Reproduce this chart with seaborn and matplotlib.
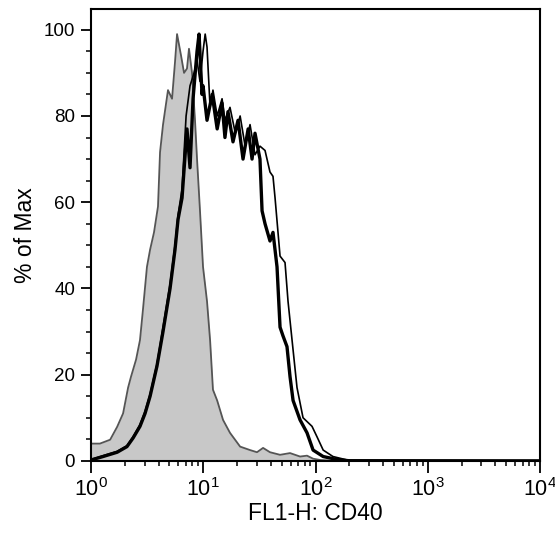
import numpy as np
import pandas as pd
import seaborn as sns
import matplotlib
matplotlib.use("Agg")
import matplotlib.pyplot as plt
from matplotlib.ticker import LogLocator, LogFormatterMathtext, MultipleLocator

# isotype control (gray filled histogram)
iso_x = [1.0, 1.20, 1.48, 1.71, 1.93, 2.14, 2.27, 2.52, 2.73, 2.90, 3.15, 3.36, 3.64,
         3.95, 4.12, 4.38, 4.85, 5.27, 5.60, 5.84, 6.34, 6.74, 7.16, 7.46, 7.94, 8.44,
         8.80, 9.35, 9.95, 10.8, 11.5, 12.2, 13.3, 15.0, 17.3, 21.3, 26.1, 30.1, 34.1,
         39.3, 48.3, 59.3, 72.8, 84.0, 95.1, 110, 150, 10000]
iso_y = [4, 4, 4.9, 7.9, 11, 17, 19.5, 23.5, 28, 35, 45, 49, 53,
         59, 71.6, 78, 86, 84, 92.5, 99, 94, 90, 91, 95.6, 90, 79,
         70, 58, 45, 37, 28, 16.5, 14, 9.5, 6.5, 3.3, 2.5, 2, 3,
         2, 1.4, 1.8, 1, 1.2, 0.5, 0.2, 0, 0]

# CD40 stain, thick line
thick_x = [1.0, 1.28, 1.71, 2.09, 2.37, 2.73, 3.03, 3.36, 3.87, 4.38, 5.06, 5.60, 5.96,
           6.47, 7.16, 7.62, 8.11, 8.80, 9.17, 9.75, 9.95, 10.8, 12.0, 13.3, 14.7, 15.6,
           16.6, 18.4, 20.4, 22.6, 25.1, 27.2, 28.9, 32.0, 33.4, 35.5, 39.3, 41.8, 45.4,
           48.3, 51.3, 55.7, 59.3, 63.1, 72.8, 84.0, 95.1, 117, 156, 203, 10000]
thick_y = [0.2, 1, 2, 3.3, 5.3, 8, 11, 15, 22, 30, 40, 49, 56,
           61, 77, 68, 84, 95, 99, 85, 87, 79, 85, 77, 83, 75,
           81, 74, 79, 70, 77, 70, 76, 70, 58, 55, 51, 53, 45,
           31, 29, 26.5, 19.5, 14, 9.5, 6.5, 2.5, 1, 0.3, 0, 0]

# CD40 stain, thin line
thin_x = [1.0, 1.28, 1.71, 2.09, 2.37, 2.73, 3.03, 3.36, 3.87, 4.38, 5.06, 5.60, 5.96,
          6.47, 7.03, 7.62, 8.28, 8.80, 9.35, 9.95, 10.4, 10.8, 11.5, 12.2, 13.3, 14.7,
          15.6, 17.3, 19.3, 21.3, 23.6, 26.1, 28.9, 32.0, 35.5, 39.3, 41.8, 43.6, 48.3,
          53.5, 56.9, 61.8, 68.4, 77.4, 93.1, 103, 117, 143, 191, 10000]
thin_y = [0.3, 1.2, 2.2, 3.5, 5.6, 8.4, 11.5, 15.5, 22.5, 31, 41, 50, 57,
          63, 80, 87, 90, 93, 88, 95, 99, 96, 82, 86, 80, 84,
          79, 82, 76, 80, 73, 78, 71, 73, 72, 67, 66, 61, 47.5,
          46, 37, 28, 17, 10, 8, 5.6, 2.5, 1, 0.2, 0]

sns.set_theme(style="ticks")
plt.rcParams["font.family"] = ["Liberation Sans", "DejaVu Sans"]
plt.rcParams["mathtext.default"] = "regular"
plt.rcParams["text.color"] = "black"
plt.rcParams["axes.labelcolor"] = "black"

fig = plt.figure(figsize=(5.55, 5.34), dpi=100)
ax = fig.add_axes([0.164, 0.137, 0.809, 0.846])

ax.fill_between(iso_x, iso_y, 0, color="#c8c8c8", linewidth=0)
sns.lineplot(x=iso_x, y=iso_y, ax=ax, color="#555555", linewidth=1.3, sort=False)
sns.lineplot(x=thin_x, y=thin_y, ax=ax, color="black", linewidth=1.2, sort=False)
sns.lineplot(x=thick_x, y=thick_y, ax=ax, color="black", linewidth=2.4, sort=False)

ax.set_xscale("log")
ax.set_xlim(1, 10000)
ax.set_ylim(0, 104.8)

ax.xaxis.set_major_locator(LogLocator(base=10, numticks=10))
ax.xaxis.set_minor_locator(LogLocator(base=10, subs=np.arange(2, 10), numticks=50))
ax.xaxis.set_major_formatter(LogFormatterMathtext())
ax.yaxis.set_major_locator(MultipleLocator(20))
ax.yaxis.set_minor_locator(MultipleLocator(5))

for s in ax.spines.values():
    s.set_linewidth(1.5)
    s.set_color("black")
    s.set_visible(True)

ax.tick_params(axis="x", which="major", direction="out", length=8.5, width=1.3,
               labelsize=15.5, colors="black", pad=4)
ax.tick_params(axis="y", which="major", direction="out", length=7.5, width=1.3,
               labelsize=13.5, colors="black", pad=4)
ax.tick_params(which="minor", direction="out", length=3.8, width=1.1, colors="black")

ax.set_xlabel("FL1-H: CD40", fontsize=16.5, labelpad=1, color="black")
ax.set_ylabel("% of Max", fontsize=16.5, labelpad=5, color="black")

fig.savefig("out.png", dpi=100)
